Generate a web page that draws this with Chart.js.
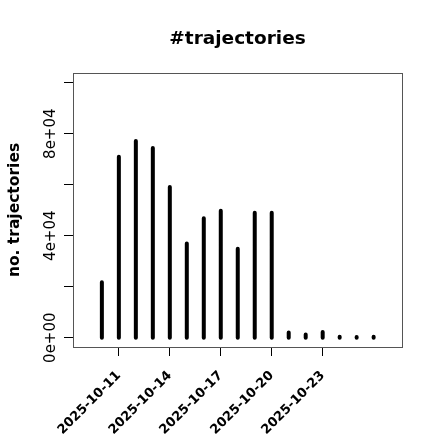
<!DOCTYPE html>
<html>
<head>
<meta charset="utf-8">
<script src="https://cdn.jsdelivr.net/npm/chart.js@4"></script>
<style>
  body { margin: 0; background: #fff; }
  #wrap { width: 440px; height: 440px; }
</style>
</head>
<body>
<div id="wrap"><canvas id="chart" width="440" height="440"></canvas></div>
<script>
const days = ["2025-10-10","2025-10-11","2025-10-12","2025-10-13","2025-10-14","2025-10-15",
  "2025-10-16","2025-10-17","2025-10-18","2025-10-19","2025-10-20","2025-10-21",
  "2025-10-22","2025-10-23","2025-10-24","2025-10-25","2025-10-26"]
const counts = [21700, 71000, 77100, 74400, 59100, 36900, 46800, 49800, 34900, 49000, 49000,
  2000, 1300, 2200, 400, 300, 400]
const xTickIdx = [1, 4, 7, 10, 13]
const yTicks = [0, 20000, 40000, 60000, 80000, 100000]
const yLabels = ["0e+00", "", "4e+04", "", "8e+04", ""]

// type="h" style: one vertical segment per day, broken by nulls
let spikes = []
counts.forEach((v, i) => {
  spikes.push({x: i, y: 0})
  spikes.push({x: i, y: v})
  spikes.push({x: i, y: null})
})

const FONT = "'DejaVu Sans', sans-serif"

const decor = {
  id: 'decor',
  afterDraw(chart) {
    const ctx = chart.ctx
    const a = chart.chartArea
    const ys = chart.scales.y
    ctx.save()
    // box
    ctx.strokeStyle = '#555'
    ctx.lineWidth = 1
    ctx.strokeRect(Math.round(a.left) + 0.5, Math.round(a.top) + 0.5,
      Math.round(a.right - a.left), Math.round(a.bottom - a.top))
    // title
    ctx.fillStyle = '#000'
    ctx.font = 'bold 18.5px ' + FONT
    ctx.textAlign = 'center'
    ctx.textBaseline = 'alphabetic'
    ctx.fillText('#trajectories', (a.left + a.right) / 2, 44)
    // y axis title
    ctx.save()
    ctx.translate(18.5, (a.top + a.bottom) / 2)
    ctx.rotate(-Math.PI / 2)
    ctx.font = 'bold 15.5px ' + FONT
    ctx.fillText('no. trajectories', 0, 0)
    ctx.restore()
    // y tick labels, parallel to the axis
    ctx.font = '15px ' + FONT
    yTicks.forEach((v, i) => {
      if (!yLabels[i]) return
      ctx.save()
      ctx.translate(54.5, ys.getPixelForValue(v))
      ctx.rotate(-Math.PI / 2)
      ctx.fillText(yLabels[i], 0, 0)
      ctx.restore()
    })
    ctx.restore()
  }
}

new Chart(document.getElementById('chart'), {
  type: 'line',
  data: {
    datasets: [{
      data: spikes,
      borderColor: '#000',
      borderWidth: 4,
      borderCapStyle: 'round',
      pointRadius: 0,
      spanGaps: false,
      tension: 0
    }]
  },
  options: {
    responsive: false,
    animation: false,
    layout: { padding: { top: 73, right: 38, left: 0, bottom: 0 } },
    plugins: { legend: { display: false }, tooltip: { enabled: false } },
    scales: {
      x: {
        type: 'linear',
        min: -1.7,
        max: 17.67,
        border: { display: false },
        grid: { drawOnChartArea: false, drawTicks: true, tickLength: 9, color: '#000' },
        ticks: {
          autoSkip: false,
          minRotation: 45,
          maxRotation: 45,
          padding: 12,
          color: '#000',
          font: { family: FONT, size: 13, weight: 'bold' },
          callback: (v) => days[v]
        },
        afterBuildTicks: (s) => { s.ticks = xTickIdx.map(v => ({value: v})) },
        afterFit: (s) => { s.height = 93 }
      },
      y: {
        min: -3650,
        max: 103800,
        border: { display: false },
        grid: { drawOnChartArea: false, drawTicks: true, tickLength: 9, color: '#000' },
        ticks: { display: false },
        afterBuildTicks: (s) => { s.ticks = yTicks.map(v => ({value: v})) },
        afterFit: (s) => { s.width = 73 }
      }
    }
  },
  plugins: [decor]
})
</script>
</body>
</html>
